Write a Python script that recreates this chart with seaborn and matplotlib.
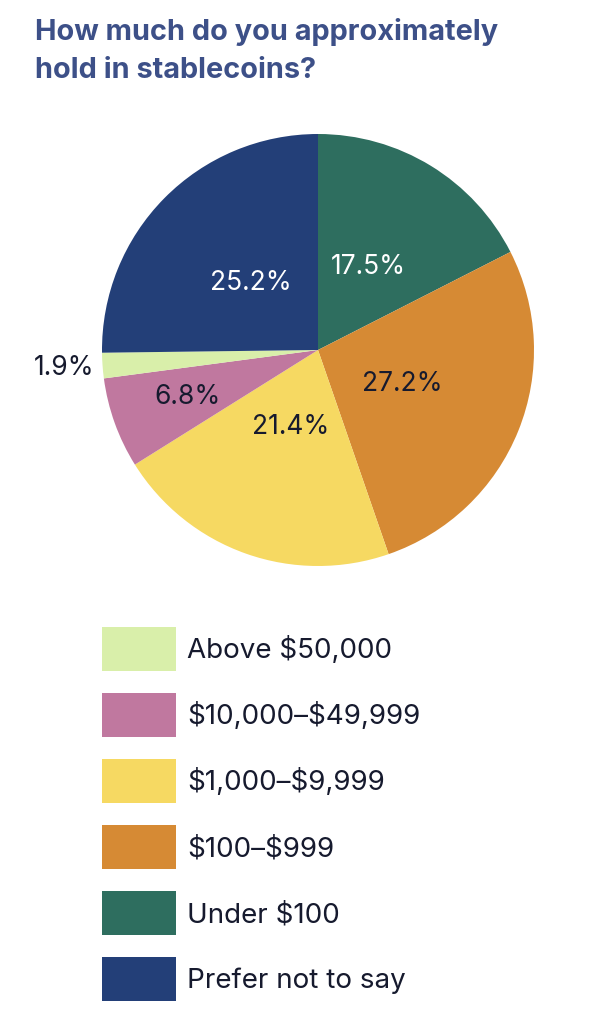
import matplotlib
matplotlib.use("Agg")
import matplotlib.pyplot as plt
import numpy as np
import seaborn as sns

# survey answers, in clockwise order starting at 12 o'clock
categories = ["Under $100", "$100–$999", "$1,000–$9,999", "$10,000–$49,999",
              "Above $50,000", "Prefer not to say"]
shares = [17.5, 27.2, 21.4, 6.8, 1.9, 25.2]
colors = ["#2e6e5f", "#d68a34", "#f6d962", "#c0789f", "#d9efaa", "#233f78"]
label_colors = ["white", "#161a2e", "#161a2e", "#161a2e", "#161a2e", "white"]
label_dist = [0.45, 0.42, 0.38, 0.64, 1.18, 0.44]
legend_order = [4, 3, 2, 1, 0, 5]

sns.set_theme(style="white")
plt.rcParams["font.family"] = ["Inter", "DejaVu Sans"]
plt.rcParams["text.parse_math"] = False

fig = plt.figure(figsize=(5.9, 10.24), dpi=100)
ax = fig.add_axes([102 / 590, 1 - 566 / 1024, 432 / 590, 432 / 1024])

wedges, _ = ax.pie(shares, colors=colors, startangle=90, counterclock=False,
                   radius=1, wedgeprops=dict(linewidth=0))
ax.set_xlim(-1, 1)
ax.set_ylim(-1, 1)
ax.set_aspect("equal")
ax.axis("off")

# percentage labels placed along each wedge's middle angle
for w, val, d, c in zip(wedges, shares, label_dist, label_colors):
    ang = np.deg2rad((w.theta1 + w.theta2) / 2)
    ax.text(d * np.cos(ang), d * np.sin(ang), f"{val}%", ha="center", va="center",
            fontsize=19, color=c)

fig.text(35 / 590, 1 - 18 / 1024, "How much do you approximately\nhold in stablecoins?",
         ha="left", va="top", fontsize=20.8, fontweight="bold", color="#3d5088",
         linespacing=1.5)

fs = 20
px = fs * 100 / 72
fig.legend([wedges[i] for i in legend_order], [categories[i] for i in legend_order],
           loc="upper left", bbox_to_anchor=(102 / 590, 1 - 627 / 1024),
           frameon=False, fontsize=fs, borderpad=0, borderaxespad=0,
           handlelength=74 / px, handleheight=45 / px * 45 / 35, handletextpad=11 / px,
           labelspacing=21.6 / px, labelcolor="#161a2e")

fig.savefig("out.png", dpi=100, facecolor="white")
